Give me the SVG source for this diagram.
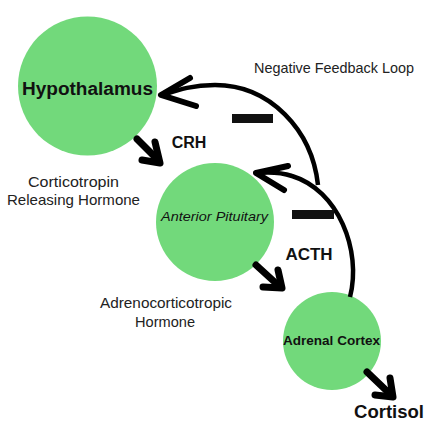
<svg xmlns="http://www.w3.org/2000/svg" width="430" height="430" viewBox="0 0 430 430">
<style>
.node{fill:#72d97b}
.lbl{font-family:"Liberation Sans",Arial,sans-serif;font-weight:bold;fill:#111;text-anchor:middle}
.txt{font-family:"Liberation Sans",Arial,sans-serif;fill:#222;text-anchor:middle;font-size:14.5px}
.arr{fill:none;stroke:#000;stroke-width:7;stroke-linecap:round;stroke-linejoin:round}
.fb{fill:none;stroke:#000;stroke-width:4.5;stroke-linecap:butt}
.head{fill:none;stroke:#000;stroke-width:6;stroke-linecap:round;stroke-linejoin:round}
.minus{fill:#111}
</style>
<rect width="430" height="430" fill="#fff"/>
<g id="hypothalamus">
<circle class="node" cx="87.5" cy="86" r="69.5"/>
<text class="lbl" x="87.5" y="95" font-size="18" textLength="131" lengthAdjust="spacingAndGlyphs">Hypothalamus</text>
</g>
<g id="anterior-pituitary">
<circle class="node" cx="215" cy="222" r="59"/>
<text x="214.5" y="221" font-family="Liberation Sans, Arial, sans-serif" font-style="italic" font-size="13.5" fill="#111" text-anchor="middle" textLength="107" lengthAdjust="spacingAndGlyphs">Anterior Pituitary</text>
</g>
<g id="adrenal-cortex">
<circle class="node" cx="332" cy="341" r="49"/>
<text class="lbl" x="331.5" y="345" font-size="12" textLength="97" lengthAdjust="spacingAndGlyphs">Adrenal Cortex</text>
</g>
<g id="cortisol">
<text class="lbl" x="389" y="418" font-size="18" textLength="70" lengthAdjust="spacingAndGlyphs">Cortisol</text>
</g>
<g id="connectors">
<line class="arr" x1="137" y1="139" x2="158" y2="160"/>
<polyline class="arr" points="155,142 160,163 142,160"/>
<line class="arr" x1="256" y1="265" x2="279" y2="286"/>
<polyline class="arr" points="278,270 282,288 263,287"/>
<line class="arr" x1="367" y1="372" x2="390" y2="394"/>
<polyline class="arr" points="390,378 393,397 375,395"/>
<path class="fb" d="M318,185 C312,130 270,85 215,85 C192,85 178,90 163,95"/>
<polyline class="head" points="190,78 161,95 196,106"/>
<path class="fb" d="M350,297 C362,250 338,190 292,176 C280,172 268,172 257,173"/>
<polyline class="head" points="288,166 256,173 284,190"/>
</g>
<g id="labels">
<rect class="minus" x="232" y="114" width="41" height="9"/>
<rect class="minus" x="292" y="210" width="42" height="9"/>
<text class="lbl" x="189" y="148" font-size="16">CRH</text>
<text class="lbl" x="309" y="260" font-size="17">ACTH</text>
<text class="txt" x="334" y="73" textLength="160" lengthAdjust="spacingAndGlyphs">Negative Feedback Loop</text>
<text class="txt" x="73.5" y="187" textLength="91" lengthAdjust="spacingAndGlyphs">Corticotropin</text>
<text class="txt" x="73.5" y="205" textLength="133" lengthAdjust="spacingAndGlyphs">Releasing Hormone</text>
<text class="txt" x="166" y="308" textLength="132" lengthAdjust="spacingAndGlyphs">Adrenocorticotropic</text>
<text class="txt" x="165" y="327" textLength="60" lengthAdjust="spacingAndGlyphs">Hormone</text>
</g>
</svg>
